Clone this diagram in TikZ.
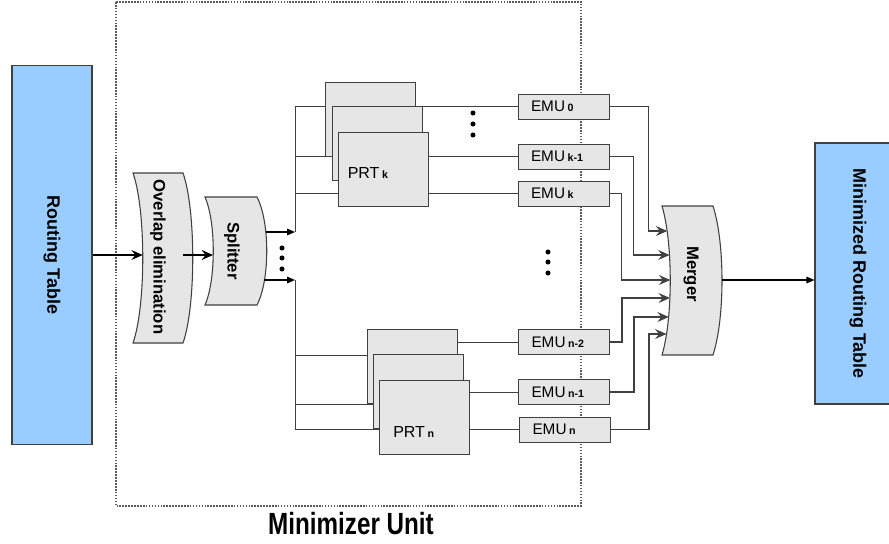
\documentclass[tikz,border=0pt]{standalone}
\usepackage{fontspec}
\setmainfont{Liberation Sans}
\usetikzlibrary{arrows.meta}
\definecolor{tableblue}{HTML}{99CCFF}
\definecolor{blockgray}{HTML}{E6E6E6}
\definecolor{edgegray}{HTML}{404040}
\newcommand{\subidx}[1]{\,{\fontsize{8}{9}\selectfont\bfseries #1}}
\begin{document}
\begin{tikzpicture}[x=0.75pt, y=-0.75pt,
    table/.style={draw=edgegray, fill=tableblue, line width=0.8pt, rotate=-90,
        font=\fontsize{13.5}{15}\selectfont\bfseries},
    blocktext/.style={rotate=-90, font=\fontsize{12.5}{14}\selectfont\bfseries},
    bent/.style={draw=edgegray, fill=blockgray, line width=0.8pt},
    prt/.style={draw=edgegray, fill=blockgray, line width=0.75pt,
        minimum width=67.5pt, minimum height=55.5pt, inner sep=0pt},
    emu/.style={draw=edgegray, fill=blockgray, line width=0.75pt,
        minimum height=18.75pt, text width=48.75pt, inner xsep=9.75pt,
        align=left, font=\fontsize{11.5}{13}\selectfont},
    wire/.style={draw=edgegray, line width=0.75pt},
    flow/.style={-{Stealth[length=8.5pt,width=7.5pt,inset=3pt]}, line width=0.8pt},
    feed/.style={-{Triangle[length=6pt,width=5pt]}, line width=0.8pt}]
    \useasboundingbox (0,0) rectangle (889,543);

    % Minimizer unit frame
    \draw[gray!70!black, densely dotted, line width=1.2pt] (116,2) rectangle (581,506);
    \node[font=\fontsize{23}{26}\selectfont\bfseries, xscale=0.79] (unit) at (351,524) {Minimizer Unit};

    % Input and output tables
    \node[table, minimum width=284.25pt, minimum height=60pt] (rt) at (52,255) {Routing Table};
    \node[table, minimum width=195.75pt, minimum height=64.5pt] (mrt) at (858,273.5) {Minimized Routing Table};

    % Bent blocks
    \filldraw[bent] (133,173) -- (183,173) .. controls (196,210) and (196,306) .. (183,343)
        -- (133,343) .. controls (146,306) and (146,210) .. (133,173) -- cycle;
    \filldraw[bent] (205,197) -- (257,197) .. controls (270,222) and (270,280) .. (257,305)
        -- (205,305) .. controls (216,280) and (216,222) .. (205,197) -- cycle;
    \filldraw[bent] (662,206) -- (713,206) .. controls (725,243) and (725,318) .. (713,355)
        -- (662,355) .. controls (673,318) and (673,243) .. (662,206) -- cycle;
    \node[blocktext] (ovl) at (158,257) {Overlap elimination};
    \node[blocktext] (spl) at (232,251) {Splitter};
    \node[blocktext] (mrg) at (691,274) {Merger};

    \coordinate (ovlin) at (142.7,255);
    \coordinate (splin) at (213,255);
    \coordinate (s1) at (265.9,232);
    \coordinate (s2) at (263.7,280);
    \coordinate (busk) at (295,232);
    \coordinate (busn) at (295,280);
    \coordinate (lowend) at (295,429);
    \coordinate (mout) at (722,280);
    \foreach \i/\x/\y in {1/667.2/231, 2/669.5/255, 3/670.2/280, 4/669.9/298, 5/668.7/317, 6/666.4/334} {
        \coordinate (m\i) at (\x,\y);
    }

    % EMU units
    \node[emu] (emu0) at (563.5,106.5) {EMU\subidx{0}};
    \node[emu] (emuk1) at (563.5,156.5) {EMU\subidx{k-1}};
    \node[emu] (emuk) at (563.5,193.5) {EMU\subidx{k}};
    \node[emu] (emun2) at (564,342) {EMU\subidx{n-2}};
    \node[emu] (emun1) at (564,392) {EMU\subidx{n-1}};
    \node[emu] (emun) at (565,429.5) {EMU\subidx{n}};

    % Bus lines behind the PRT stacks
    \draw[wire] (busk) |- (emu0.west);
    \draw[wire] (busk |- emuk1.west) -- (emuk1.west);
    \draw[wire] (busk |- emuk.west) -- (emuk.west);

    % PRT stacks
    \node[prt] (prta) at (370.5,119.5) {};
    \node[prt] (prtb) at (377,143.5) {};
    \node[prt] (prtk) at (383,169) {};
    \node[anchor=west, inner sep=0pt, font=\fontsize{12}{14}\selectfont]
        (prtklabel) at ([xshift=7.5pt,yshift=-3pt]prtk.west) {PRT\subidx{k}};

    \draw[wire] (busn) |- (lowend);
    \draw[wire] (lowend) -- (lowend -| 379,0);
    \draw[wire] (busn |- 0,355) -- (367,355);
    \draw[wire] (busn |- 0,404) -- (374,404);
    \node[prt] (prtc) at (412,366.5) {};
    \node[prt] (prtd) at (418.5,391.5) {};
    \node[prt] (prtn) at (424.5,417) {};
    \node[anchor=west, inner sep=0pt, font=\fontsize{12}{14}\selectfont]
        (prtnlabel) at ([xshift=10.5pt,yshift=-11.25pt]prtn.west) {PRT\subidx{n}};
    \draw[wire] (prtc.east |- emun2.west) -- (emun2.west);
    \draw[wire] (prtn.east |- emun1.west) -- (emun1.west);
    \draw[wire] (prtn.east |- emun.west) -- (emun.west);

    % Main flow
    \draw[flow] (rt.north |- ovlin) -- (ovlin);
    \draw[flow] (183,255) -- (splin);
    \draw[feed] (s1) -- (busk);
    \draw[feed] (s2) -- (busn);

    % Into the merger
    \draw[wire, flow] (emu0.east) -- ++(39,0) |- (m1);
    \draw[wire, flow] (emuk1.east) -- ++(24,0) |- (m2);
    \draw[wire, flow] (emuk.east) -- ++(12,0) |- (m3);
    \draw[wire, flow] (emun2.east) -- ++(12,0) |- (m4);
    \draw[wire, flow] (emun1.east) -- ++(24,0) |- (m5);
    \draw[wire, flow] (emun.east) -- ++(38,0) |- (m6);
    \draw[feed] (mout) -- (mout -| mrt.south);

    % Ellipsis dots
    \foreach \x/\y in {473/113, 473/124, 473/135, 548/252, 548/262, 548/273, 282/248, 282/258, 282/269} {
        \fill (\x,\y) circle (1.9pt);
    }
\end{tikzpicture}
\end{document}
